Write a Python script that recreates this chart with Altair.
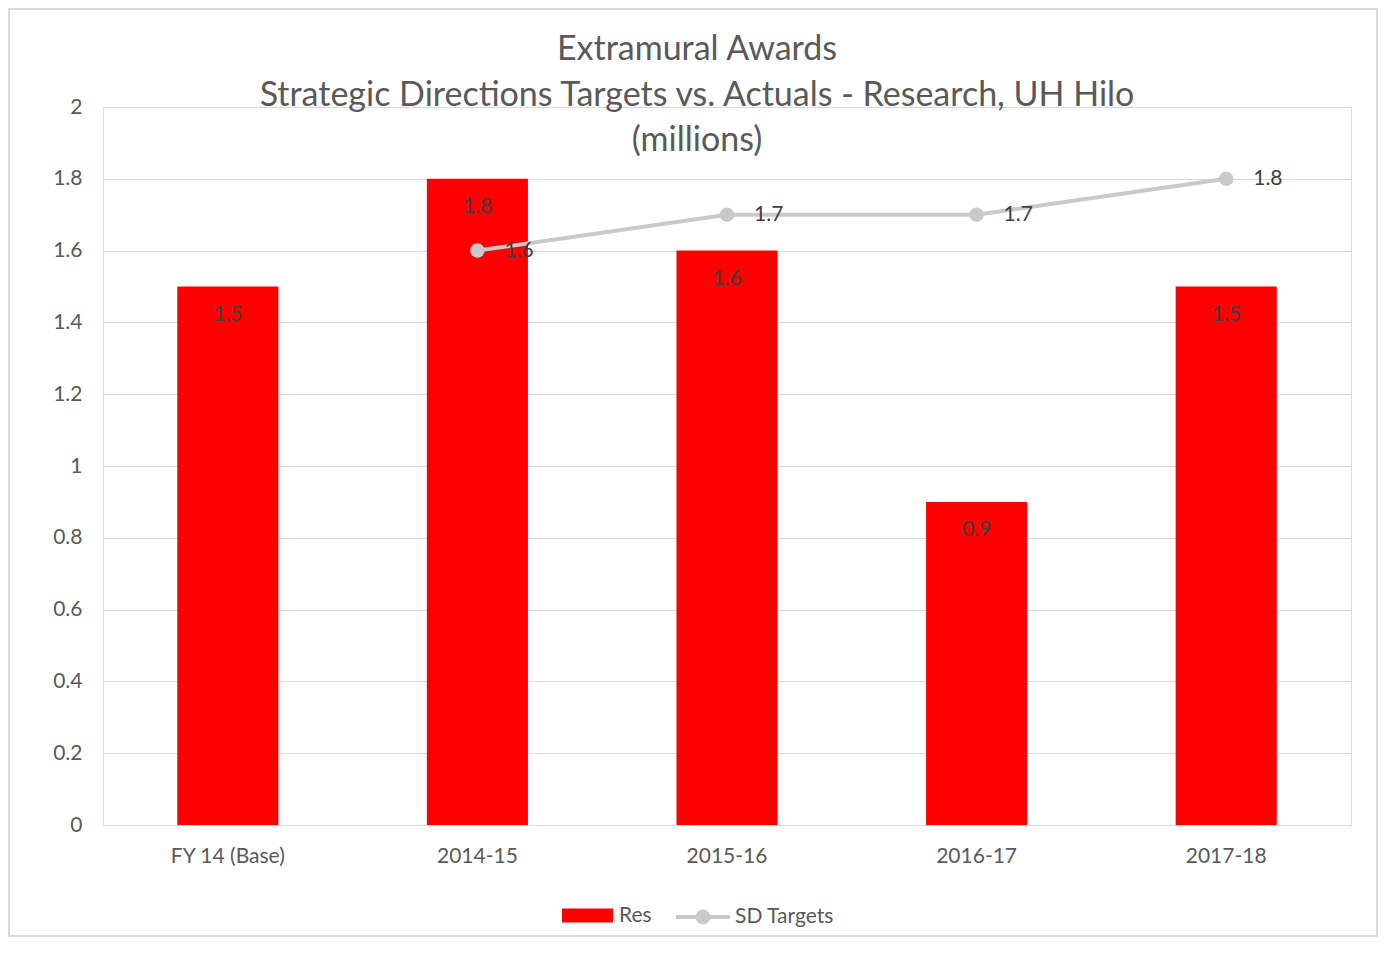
import altair as alt
import pandas as pd

categories = ["FY 14 (Base)", "2014-15", "2015-16", "2016-17", "2017-18"]
res_values = [1.5, 1.8, 1.6, 0.9, 1.5]
target_values = [None, 1.6, 1.7, 1.7, 1.8]
y_ticks = [0, 0.2, 0.4, 0.6, 0.8, 1, 1.2, 1.4, 1.6, 1.8, 2]
title_lines = ["Extramural Awards",
               "Strategic Directions Targets vs. Actuals - Research, UH Hilo",
               "(millions)"]

RED = "#FF0000"
GRAY = "#C9C9C9"
TXT = "#595959"
LBL = "#404040"
GRID = "#D9D9D9"
FONT = "Lato"

df = pd.DataFrame({
    "category": categories,
    "res": res_values,
    "target": target_values,
    "s1": ["Res"] * 5,
    "s2": ["SD Targets"] * 5,
})

W, H = 1248, 718

x_enc = alt.X("category:N", sort=categories,
              scale=alt.Scale(paddingInner=0.595, paddingOuter=0.2975),
              axis=alt.Axis(title=None, labelAngle=0, labelFontSize=21, labelColor=TXT,
                            labelFont=FONT, labelPadding=20, ticks=False, domain=False,
                            grid=False))


def y_enc(field):
    return alt.Y(f"{field}:Q", scale=alt.Scale(domain=[0, 2], nice=False),
                 axis=alt.Axis(values=y_ticks, format=".1~f", title=None, labelFontSize=21,
                               labelColor=TXT, labelFont=FONT, labelPadding=21, ticks=False,
                               domain=False, gridColor=GRID, gridWidth=1))


RECT_PATH = "M-1,-0.27H1V0.27H-1Z"
LINE_PATH = "M-1,0H1M0.2,0A0.2,0.2,0,1,1,-0.2,0A0.2,0.2,0,1,1,0.2,0Z"

base = alt.Chart(df)

bars = base.mark_bar().encode(
    x=x_enc,
    y=y_enc("res"),
    fill=alt.Fill("s1:N", scale=alt.Scale(domain=["Res"], range=[RED]),
                  legend=alt.Legend(title=None, symbolType=RECT_PATH, symbolSize=2601,
                                    orient="none", legendX=459, legendY=783,
                                    labelFontSize=21, labelColor=TXT, labelFont=FONT,
                                    labelOffset=6, symbolStrokeWidth=0)),
)

bar_labels = base.mark_text(dy=28, baseline="middle", fontSize=21, font=FONT, color=LBL).encode(
    x=x_enc,
    y=y_enc("res"),
    text=alt.Text("res:Q", format=".1f"),
)

line_data = base.transform_filter("isValid(datum.target)")

line = line_data.mark_line(strokeWidth=4).encode(
    x=x_enc,
    y=y_enc("target"),
    stroke=alt.Stroke("s2:N", scale=alt.Scale(domain=["SD Targets"], range=[GRAY]),
                      legend=alt.Legend(title=None, symbolType=LINE_PATH, symbolSize=2916,
                                        symbolStrokeWidth=4, symbolFillColor=GRAY,
                                        orient="none", legendX=571, legendY=781,
                                        labelFontSize=21, labelColor=TXT, labelFont=FONT,
                                        labelOffset=3)),
)

points = line_data.mark_point(filled=True, size=210, color=GRAY, opacity=1).encode(
    x=x_enc,
    y=y_enc("target"),
)

line_labels = line_data.mark_text(align="left", dx=27, baseline="middle", fontSize=21,
                                  font=FONT, color=LBL).encode(
    x=x_enc,
    y=y_enc("target"),
    text=alt.Text("target:Q", format=".1f"),
)

border = alt.Chart(alt.Data(values=[{"k": 1}])).mark_rect(
    fillOpacity=0, stroke=GRID, strokeWidth=2
).encode(
    x=alt.value(-94), x2=alt.value(1274), y=alt.value(-98), y2=alt.value(829)
)

chart = alt.layer(border, bars, bar_labels, line, points, line_labels).properties(
    width=W,
    height=H,
    padding={"left": 95, "top": 99, "right": 28, "bottom": 113},
    autosize=alt.AutoSizeParams(type="none"),
    title=alt.TitleParams(text=title_lines, fontSize=34, font=FONT, color=TXT,
                          fontWeight="normal", lineHeight=45.5, anchor="middle",
                          offset=-150, dx=-30),
).configure_view(stroke=None).configure(background="white")

chart.save("out.html", embed_options={"renderer": "svg", "actions": False})
